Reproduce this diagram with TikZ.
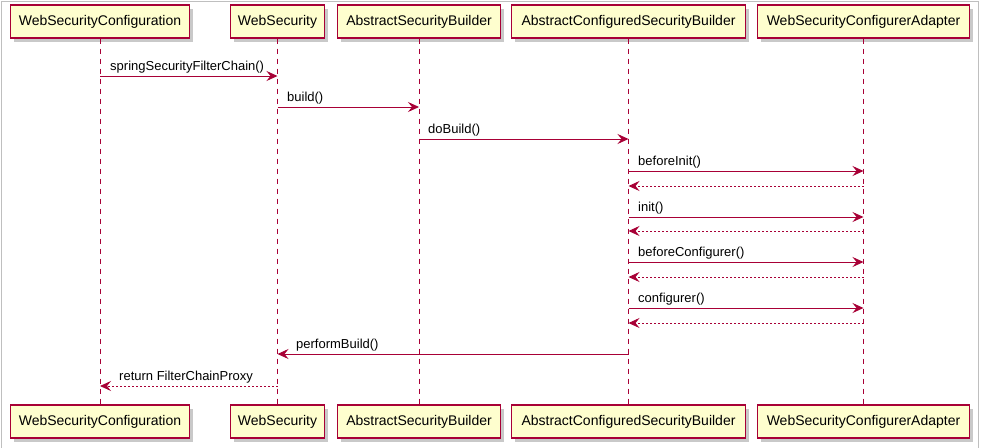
\documentclass[tikz,border=0pt]{standalone}
\usepackage{fontspec}
\setmainfont{Liberation Sans}
\usetikzlibrary{arrows.meta,shadows}
\definecolor{pborder}{HTML}{A80036}
\definecolor{pfill}{HTML}{FEFECE}
\tikzset{
  part/.style={draw=pborder, fill=pfill, line width=1.2pt, minimum height=33pt,
    inner sep=0pt, font=\fontsize{14}{16}\selectfont,
    drop shadow={shadow xshift=3.5pt, shadow yshift=-3.5pt, fill=black!35, opacity=0.6}},
  life/.style={draw=pborder, line width=0.8pt, dash pattern=on 5pt off 5pt},
  msg/.style={draw=pborder, line width=0.9pt, -{Stealth[length=11pt,width=10pt,inset=4pt]}},
  ret/.style={msg, dash pattern=on 2pt off 2pt},
  lbl/.style={font=\fontsize{13}{15}\selectfont, inner sep=0pt, anchor=south west},
}
\begin{document}
\begin{tikzpicture}[x=1pt,y=-1pt]
\useasboundingbox (0,0) rectangle (981,447);
\fill[white] (0,0) rectangle (981,447);
\draw[black!25, line width=1.5pt] (1.5,460) -- (1.5,1.5) -- (978.5,1.5) -- (978.5,460);
% participants top
\node[part, minimum width=179pt] (t1) at (100,21.5) {WebSecurityConfiguration};
\node[part, minimum width=94pt]  (t2) at (277.5,21.5) {WebSecurity};
\node[part, minimum width=163pt] (t3) at (419,21.5) {AbstractSecurityBuilder};
\node[part, minimum width=234pt] (t4) at (628.5,21.5) {AbstractConfiguredSecurityBuilder};
\node[part, minimum width=212pt] (t5) at (863.5,21.5) {WebSecurityConfigurerAdapter};
% participants bottom
\node[part, minimum width=179pt] (b1) at (100,421.5) {WebSecurityConfiguration};
\node[part, minimum width=94pt]  (b2) at (277.5,421.5) {WebSecurity};
\node[part, minimum width=163pt] (b3) at (419,421.5) {AbstractSecurityBuilder};
\node[part, minimum width=234pt] (b4) at (628.5,421.5) {AbstractConfiguredSecurityBuilder};
\node[part, minimum width=212pt] (b5) at (863.5,421.5) {WebSecurityConfigurerAdapter};
% lifelines
\foreach \i in {1,...,5} { \draw[life] (t\i.south) -- (b\i.north); }
% messages
\draw[msg] (t1.south |- 0,76) -- (t2.south |- 0,76);
\node[lbl] (l1) at (110,73) {springSecurityFilterChain()};
\draw[msg] (t2.south |- 0,107) -- (t3.south |- 0,107);
\node[lbl] (l2) at (287,104) {build()};
\draw[msg] (t3.south |- 0,139) -- (t4.south |- 0,139);
\node[lbl] (l3) at (428,136) {doBuild()};
\draw[msg] (t4.south |- 0,171) -- (t5.south |- 0,171);
\node[lbl] (l4) at (638,168) {beforeInit()};
\draw[ret] (t5.south |- 0,186) -- (t4.south |- 0,186);
\draw[msg] (t4.south |- 0,217) -- (t5.south |- 0,217);
\node[lbl] (l5) at (638,214) {init()};
\draw[ret] (t5.south |- 0,231) -- (t4.south |- 0,231);
\draw[msg] (t4.south |- 0,262) -- (t5.south |- 0,262);
\node[lbl] (l6) at (638,259) {beforeConfigurer()};
\draw[ret] (t5.south |- 0,277) -- (t4.south |- 0,277);
\draw[msg] (t4.south |- 0,308) -- (t5.south |- 0,308);
\node[lbl] (l7) at (638,305) {configurer()};
\draw[ret] (t5.south |- 0,323) -- (t4.south |- 0,323);
\draw[msg] (t4.south |- 0,354) -- (t2.south |- 0,354);
\node[lbl] (l8) at (296,351) {performBuild()};
\draw[ret] (t2.south |- 0,386) -- (t1.south |- 0,386);
\node[lbl] (l9) at (119,383) {return FilterChainProxy};
\end{tikzpicture}
\end{document}
